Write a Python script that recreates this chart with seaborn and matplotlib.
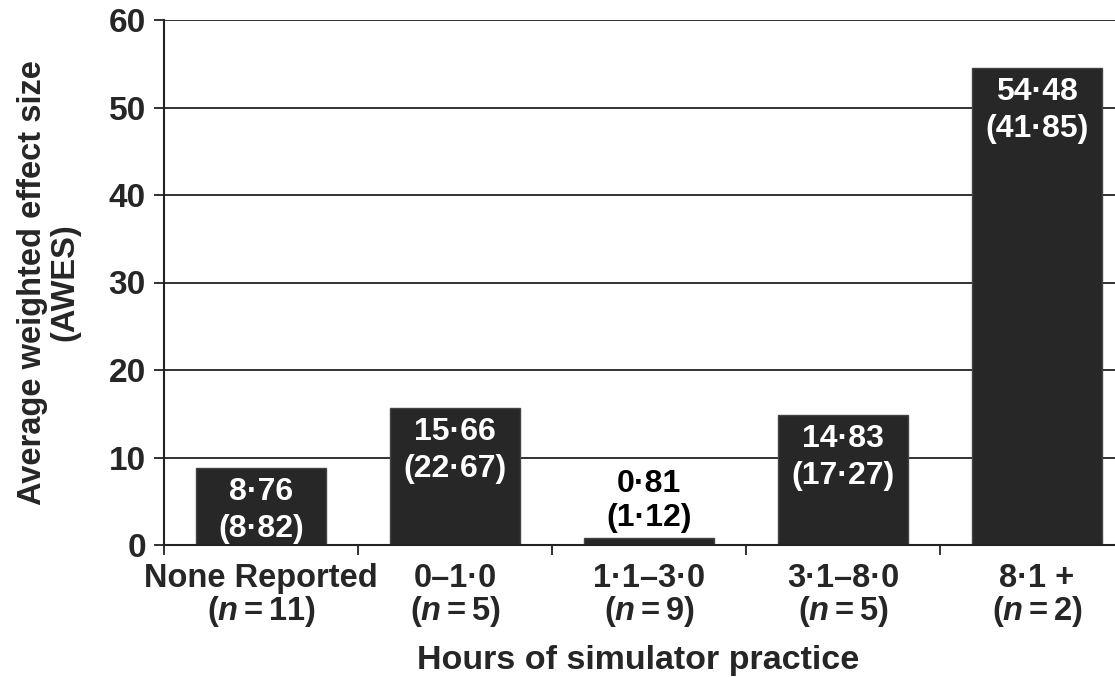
import matplotlib
matplotlib.use("Agg")
import matplotlib.pyplot as plt
import seaborn as sns
import pandas as pd

# data
groups = ["None Reported", "0\u20131\u00b70", "1\u00b71\u20133\u00b70", "3\u00b71\u20138\u00b70", "8\u00b71 +"]
n_studies = [11, 5, 9, 5, 2]
awes = [8.76, 15.66, 0.81, 14.83, 54.48]
awes_sd = [8.82, 22.67, 1.12, 17.27, 41.85]
y_ticks = [0, 10, 20, 30, 40, 50, 60]

sns.set_style("white")
plt.rcParams["font.family"] = ["Liberation Sans", "DejaVu Sans"]
plt.rcParams["font.weight"] = "bold"
plt.rcParams["mathtext.fontset"] = "custom"
plt.rcParams["mathtext.it"] = "Liberation Sans:italic:bold"
plt.rcParams["mathtext.rm"] = "Liberation Sans:bold"

df = pd.DataFrame({"group": groups, "awes": awes})

fig = plt.figure(figsize=(11.15, 6.77), dpi=100)
ax = fig.add_axes([164 / 1115, 132 / 677, 970 / 1115, 525 / 677])

sns.barplot(data=df, x="group", y="awes", color="#272727", width=0.67,
            saturation=1, edgecolor="#444444", linewidth=1, ax=ax)

ax.set_xlim(-0.5, 4.5)
ax.set_ylim(0, 60)
ax.set_yticks(y_ticks)
ax.set_yticklabels([str(t) for t in y_ticks], fontsize=24, fontweight="bold")

# grid lines
ax.set_axisbelow(True)
ax.yaxis.grid(True, color="#222222", linewidth=1.3)
ax.tick_params(axis="y", left=True, length=7, width=1.3, pad=6, color="#222222")

# ticks between categories, labels at the centres
ax.set_xticks([i - 0.5 for i in range(len(groups) + 1)])
ax.set_xticklabels([])
ax.set_xticks(range(len(groups)), minor=True)
ax.set_xticklabels([f"{g}\n$(\\mathit{{n}}={n})$" for g, n in zip(groups, n_studies)],
                   minor=True, fontsize=23.5, fontweight="bold", linespacing=1.0)
ax.tick_params(axis="x", which="major", bottom=True, length=7, width=1.3,
               direction="out", color="#222222")
ax.tick_params(axis="x", which="minor", bottom=True, length=0, pad=13)

for side in ["top", "right"]:
    ax.spines[side].set_visible(False)
for side in ["left", "bottom"]:
    ax.spines[side].set_color("#222222")
    ax.spines[side].set_linewidth(1.5)

# value labels
for i, (v, s) in enumerate(zip(awes, awes_sd)):
    txt = f"{v:.2f}\n({s:.2f})".replace(".", "\u00b7")
    if v > 5:
        ax.text(i, v - 1.0, txt, ha="center", va="top", color="white",
                fontsize=23, fontweight="bold", linespacing=1.3)
    else:
        ax.text(i, v + 0.6, txt, ha="center", va="bottom", color="black",
                fontsize=23, fontweight="bold", linespacing=1.15)

ax.set_ylabel("Average weighted effect size\n(AWES)", fontsize=23.5, fontweight="bold",
              linespacing=1.05)
ax.yaxis.set_label_coords(-0.086, 0.5)
ax.set_xlabel("Hours of simulator practice", fontsize=24.5, fontweight="bold")
ax.xaxis.set_label_coords(0.489, -0.19)

fig.savefig("out.png", dpi=100)
